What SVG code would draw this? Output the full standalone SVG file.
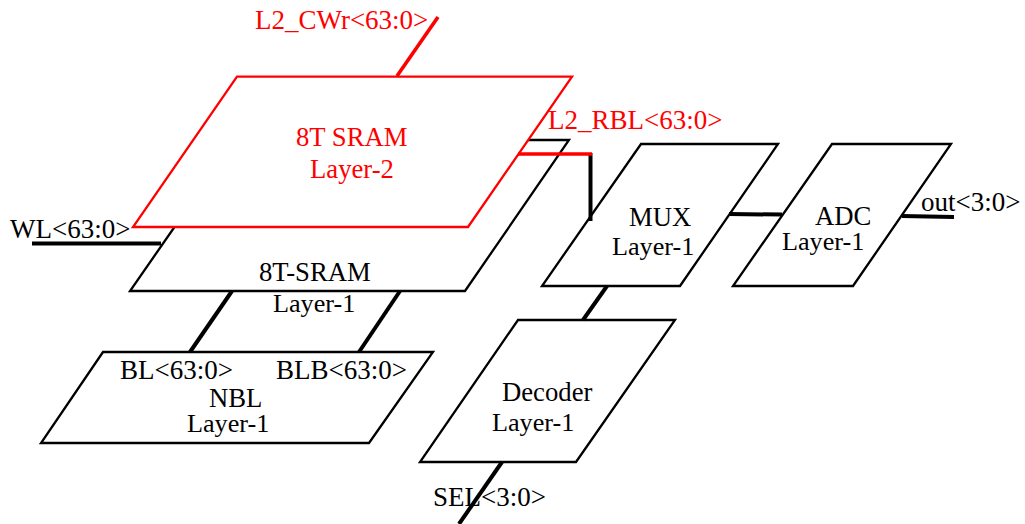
<svg xmlns="http://www.w3.org/2000/svg" width="1025" height="524" viewBox="0 0 1025 524">
<style>
text{font-family:"Liberation Serif","Times New Roman",serif;font-size:26.7px;fill:#000}
text.s{font-size:27px}
text.l{font-size:26.2px}
.n{fill:#fff;stroke:#000;stroke-width:2.3;stroke-linejoin:miter}
.r{stroke:#f00}
text.rt{fill:#f00}
.c{fill:none;stroke:#000;stroke-width:4}
.cr{fill:none;stroke:#f00;stroke-width:3.6}
</style>
<rect width="1025" height="524" fill="#fff"/>
<g id="node-sram-l1">
<polygon class="n" points="235,140 569,140 465,291 130,291"/>
<text x="259" y="281">8T-SRAM</text>
<text class="l" x="273" y="312">Layer-1</text>
</g>
<g id="node-sram-l2">
<polygon class="n r" points="237,76.7 572,76.7 468,227 133,227"/>
<text class="rt" x="296" y="146">8T SRAM</text>
<text class="rt" x="310" y="178">Layer-2</text>
</g>
<g id="node-nbl">
<polygon class="n" points="103,352 433,352 369,443 41,443"/>
<text class="s" x="120" y="379">BL&lt;63:0&gt;</text>
<text class="s" x="276" y="379">BLB&lt;63:0&gt;</text>
<text x="209" y="407">NBL</text>
<text class="l" x="187" y="432">Layer-1</text>
</g>
<g id="node-mux">
<polygon class="n" points="641,144 778,144 680,286 542,286"/>
<text x="629" y="226">MUX</text>
<text class="l" x="612" y="255">Layer-1</text>
</g>
<g id="node-adc">
<polygon class="n" points="832,144 951,144 853,286 733,286"/>
<text x="815" y="225">ADC</text>
<text class="l" x="782" y="250">Layer-1</text>
</g>
<g id="node-decoder">
<polygon class="n" points="518,320 675,320 576,462 420,462"/>
<text x="502" y="401">Decoder</text>
<text class="l" x="492" y="431">Layer-1</text>
</g>
<g id="connectors">
<path class="cr" d="M397,76 L438,17"/>
<path class="c" d="M590.5,153 V221"/>
<path class="cr" d="M518,154 H592"/>
<path class="c" d="M32,243.5 H161"/>
<path class="c" d="M232,291 L190,352"/>
<path class="c" d="M400,291 L359,352"/>
<path class="c" d="M607,286 L583,320"/>
<path class="c" d="M502,462 L459,524"/>
<path class="c" d="M729,214 L782,214.6"/>
<path class="c" d="M902,216 L954,217"/>
</g>
<g id="labels">
<text class="rt s" x="255" y="29">L2_CWr&lt;63:0&gt;</text>
<text class="rt s" x="548" y="129">L2_RBL&lt;63:0&gt;</text>
<text class="s" x="10" y="238">WL&lt;63:0&gt;</text>
<text class="s" x="921" y="211">out&lt;3:0&gt;</text>
<text class="s" x="433" y="506">SEL&lt;3:0&gt;</text>
</g>
</svg>
